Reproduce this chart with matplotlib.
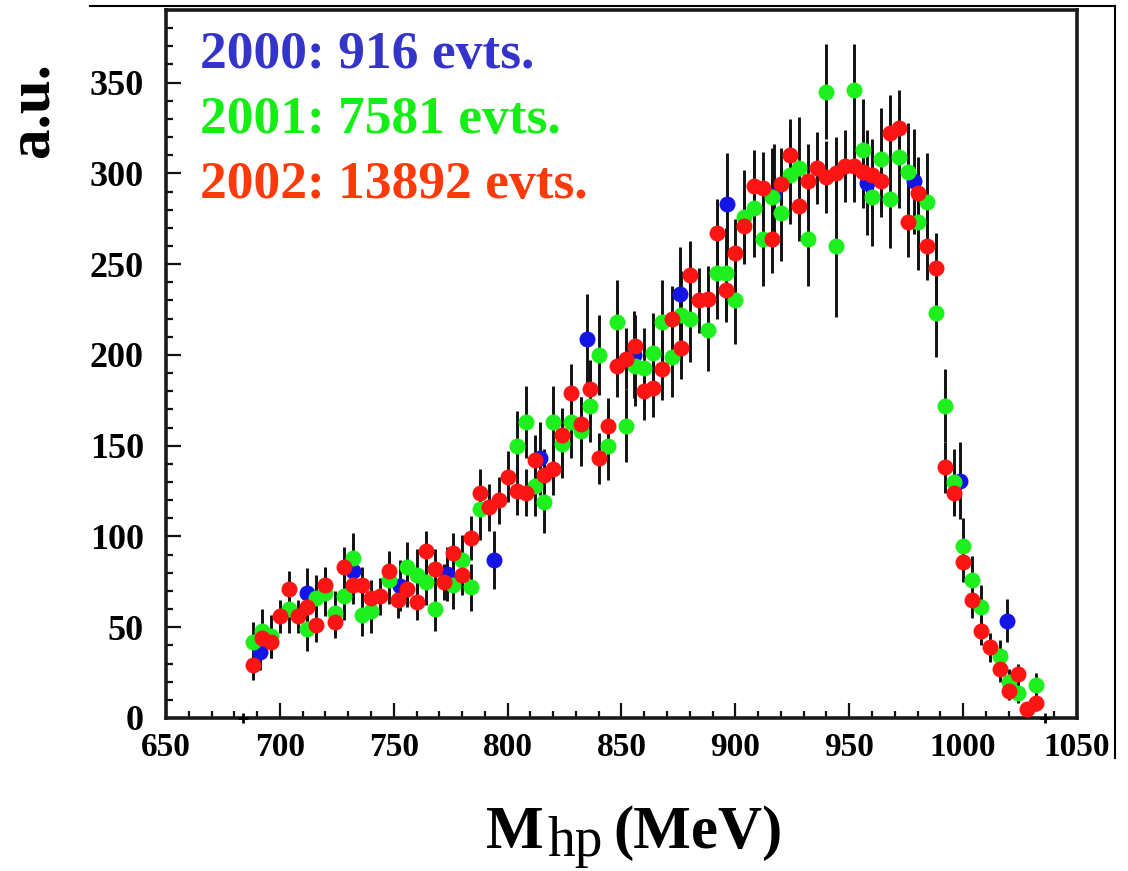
import matplotlib
matplotlib.use("Agg")
import matplotlib.pyplot as plt
from matplotlib.lines import Line2D
from matplotlib.ticker import MultipleLocator


W, H = 1128, 871

# 2002 sample (red), 4 MeV bins
RED_X = [688, 692, 696, 700, 704, 708, 712, 716, 720, 724, 728, 732, 736, 740, 744,
         748, 752, 756, 760, 764, 768, 772, 776, 780, 784, 788, 792, 796, 800, 804,
         808, 812, 816, 820, 824, 828, 832, 836, 840, 844, 848, 852, 856, 860, 864,
         868, 872, 876, 880, 884, 888, 892, 896, 900, 904, 908, 912, 916, 920, 924,
         928, 932, 936, 940, 944, 948, 952, 956, 960, 964, 968, 972, 976, 980, 984,
         988, 992, 996, 1000, 1004, 1008, 1012, 1016, 1020, 1024, 1028, 1032]
RED_Y = [29, 44, 42, 56, 71, 56, 61, 51, 73, 53, 83, 73, 73, 66, 67,
         81, 65, 71, 64, 92, 82, 75, 91, 79, 99, 124, 116, 120, 133, 125,
         124, 142, 134, 137, 156, 179, 162, 181, 143, 161, 194, 198, 205, 180, 182,
         192, 220, 204, 244, 230, 231, 267, 236, 256, 271, 293, 292, 264, 294, 310,
         282, 296, 303, 298, 300, 304, 304, 301, 299, 296, 322, 325, 273, 289, 260,
         248, 138, 124, 86, 65, 48, 39, 27, 15, 24, 5, 8]
RED_ERR = [8, 9, 9, 9, 10, 9, 9, 9, 10, 9, 11, 10, 10, 10, 10,
           11, 10, 10, 10, 11, 11, 10, 11, 11, 12, 13, 13, 13, 14, 13,
           13, 14, 14, 14, 15, 16, 15, 16, 14, 15, 17, 17, 17, 16, 16,
           17, 18, 17, 19, 18, 18, 19, 18, 19, 19, 20, 20, 19, 20, 20,
           19, 20, 20, 20, 20, 20, 20, 20, 20, 20, 21, 21, 19, 20, 19,
           19, 14, 13, 11, 10, 8, 8, 7, 5, 6, 4, 4]

# 2001 sample (green)
GREEN_X = [688, 692, 696, 704, 712, 716, 720, 724, 728, 732, 736, 740, 748, 756, 760,
           764, 768, 776, 780, 784, 788, 804, 808, 812, 816, 820, 824, 828, 832, 836,
           840, 844, 848, 852, 856, 860, 864, 868, 872, 876, 880, 888, 892, 896, 900,
           904, 908, 912, 916, 920, 924, 928, 932, 940, 944, 952, 956, 960, 964, 968,
           972, 976, 980, 984, 988, 992, 996, 1000, 1004, 1008, 1016, 1020, 1024, 1032]
GREEN_Y = [42, 48, 45, 60, 49, 66, 69, 58, 67, 88, 57, 59, 76, 83, 79,
           75, 60, 73, 87, 72, 115, 150, 163, 128, 119, 163, 151, 163, 158, 172,
           200, 150, 218, 161, 194, 193, 201, 218, 199, 222, 220, 214, 245, 245, 230,
           276, 281, 264, 287, 278, 299, 303, 264, 345, 260, 346, 313, 287, 308, 286,
           309, 301, 273, 284, 223, 172, 130, 95, 76, 61, 34, 20, 14, 18]
GREEN_ERR = [11, 12, 12, 13, 12, 13, 13, 12, 13, 14, 12, 12, 13, 14, 14,
             13, 12, 13, 14, 13, 17, 19, 20, 17, 17, 20, 19, 20, 19, 20,
             22, 19, 23, 20, 22, 22, 22, 23, 22, 24, 24, 23, 25, 25, 24,
             26, 27, 26, 27, 26, 27, 28, 26, 26, 39, 25, 28, 27, 28, 27,
             28, 27, 26, 27, 24, 20, 18, 15, 13, 12, 9, 7, 6, 7]

# 2000 sample (blue), wider bins
BLUE_X = [691.3, 711.8, 732.3, 752.8, 773.3, 793.8, 814.3, 834.8, 855.3, 875.8,
          896.3, 916.8, 957.8, 978.3, 998.8, 1019.3]
BLUE_Y = [36.5, 68.7, 80.7, 72.8, 79.4, 87.1, 143.1, 208.8, 200.1, 233.7,
          283.4, 288, 294.8, 295.7, 130.8, 53.6]
BLUE_ERR = [10, 14, 15, 14, 15, 16, 20, 25, 24, 26,
            28, 28, 29, 29, 21, 12]

EMPTY_X = [684, 1036]
EMPTY_Y = [0, 0]

LEGEND_LINES = ["2000: 916 evts.", "2001: 7581 evts.", "2002: 13892 evts."]
LEGEND_COLORS = ["#3434C8", "#14EE14", "#FF3A0A"]

SERIF = ["Liberation Serif", "DejaVu Serif"]


def px(x, y):
    return x / W, 1 - y / H


def draw_series(ax, x, y, err, color):
    ax.errorbar(x, y, yerr=err, fmt="none", ecolor="#111111", elinewidth=2.1, capsize=0, zorder=2)
    ax.plot(x, y, "o", color=color, markersize=11.5, markeredgewidth=0, zorder=3)


def main():
    plt.rcParams["font.family"] = SERIF
    fig = plt.figure(figsize=(W / 100, H / 100), dpi=100)
    ax = fig.add_axes([166 / W, 1 - 718 / H, (1077 - 166) / W, (718 - 10) / H])

    draw_series(ax, BLUE_X, BLUE_Y, BLUE_ERR, "#1414E6")
    draw_series(ax, GREEN_X, GREEN_Y, GREEN_ERR, "#1EF01E")
    draw_series(ax, RED_X, RED_Y, RED_ERR, "#FF1414")
    ax.plot(EMPTY_X, EMPTY_Y, "+", color="black", markersize=7, markeredgewidth=2, zorder=4, clip_on=False)

    ax.set_xlim(650, 1050)
    ax.set_ylim(0, 390)
    ax.xaxis.set_major_locator(MultipleLocator(50))
    ax.xaxis.set_minor_locator(MultipleLocator(10))
    ax.yaxis.set_major_locator(MultipleLocator(50))
    ax.yaxis.set_minor_locator(MultipleLocator(10))
    ax.tick_params(which="both", direction="in", top=False, right=False, width=1.6, color="#111111")
    ax.tick_params(which="major", length=11)
    ax.tick_params(which="minor", length=5)
    ax.tick_params(axis="x", which="major", pad=10, labelsize=24)
    ax.tick_params(axis="y", which="major", pad=16, labelsize=26)
    for label in ax.get_xticklabels() + ax.get_yticklabels():
        label.set_fontweight("bold")
    for spine in ax.spines.values():
        spine.set_linewidth(2.6)
        spine.set_color("#1a1a1a")

    for line, color, base in zip(LEGEND_LINES, LEGEND_COLORS, [68, 133, 198]):
        fig.text(*px(200, base), line, color=color, fontsize=38.5, fontweight="bold",
                 ha="left", va="baseline")

    fig.text(*px(33, 110), "a.u.", rotation=90, fontsize=44, fontweight="bold",
             ha="center", va="center")

    fig.text(*px(486, 848), "M", fontsize=44, fontweight="bold", ha="left", va="baseline")
    fig.text(*px(547, 856), "hp", fontsize=40, ha="left", va="baseline")
    fig.text(*px(613, 848), "(MeV)", fontsize=44, fontweight="bold", ha="left", va="baseline")

    fig.add_artist(Line2D([90 / W, 1115 / W], [1 - 6 / H, 1 - 6 / H], color="black", linewidth=1.5))
    fig.add_artist(Line2D([1115 / W, 1115 / W], [1 - 6 / H, 1 - 758 / H], color="black", linewidth=1.5))

    fig.savefig("out.png", dpi=100)
    plt.close(fig)


if __name__ == "__main__":
    main()
